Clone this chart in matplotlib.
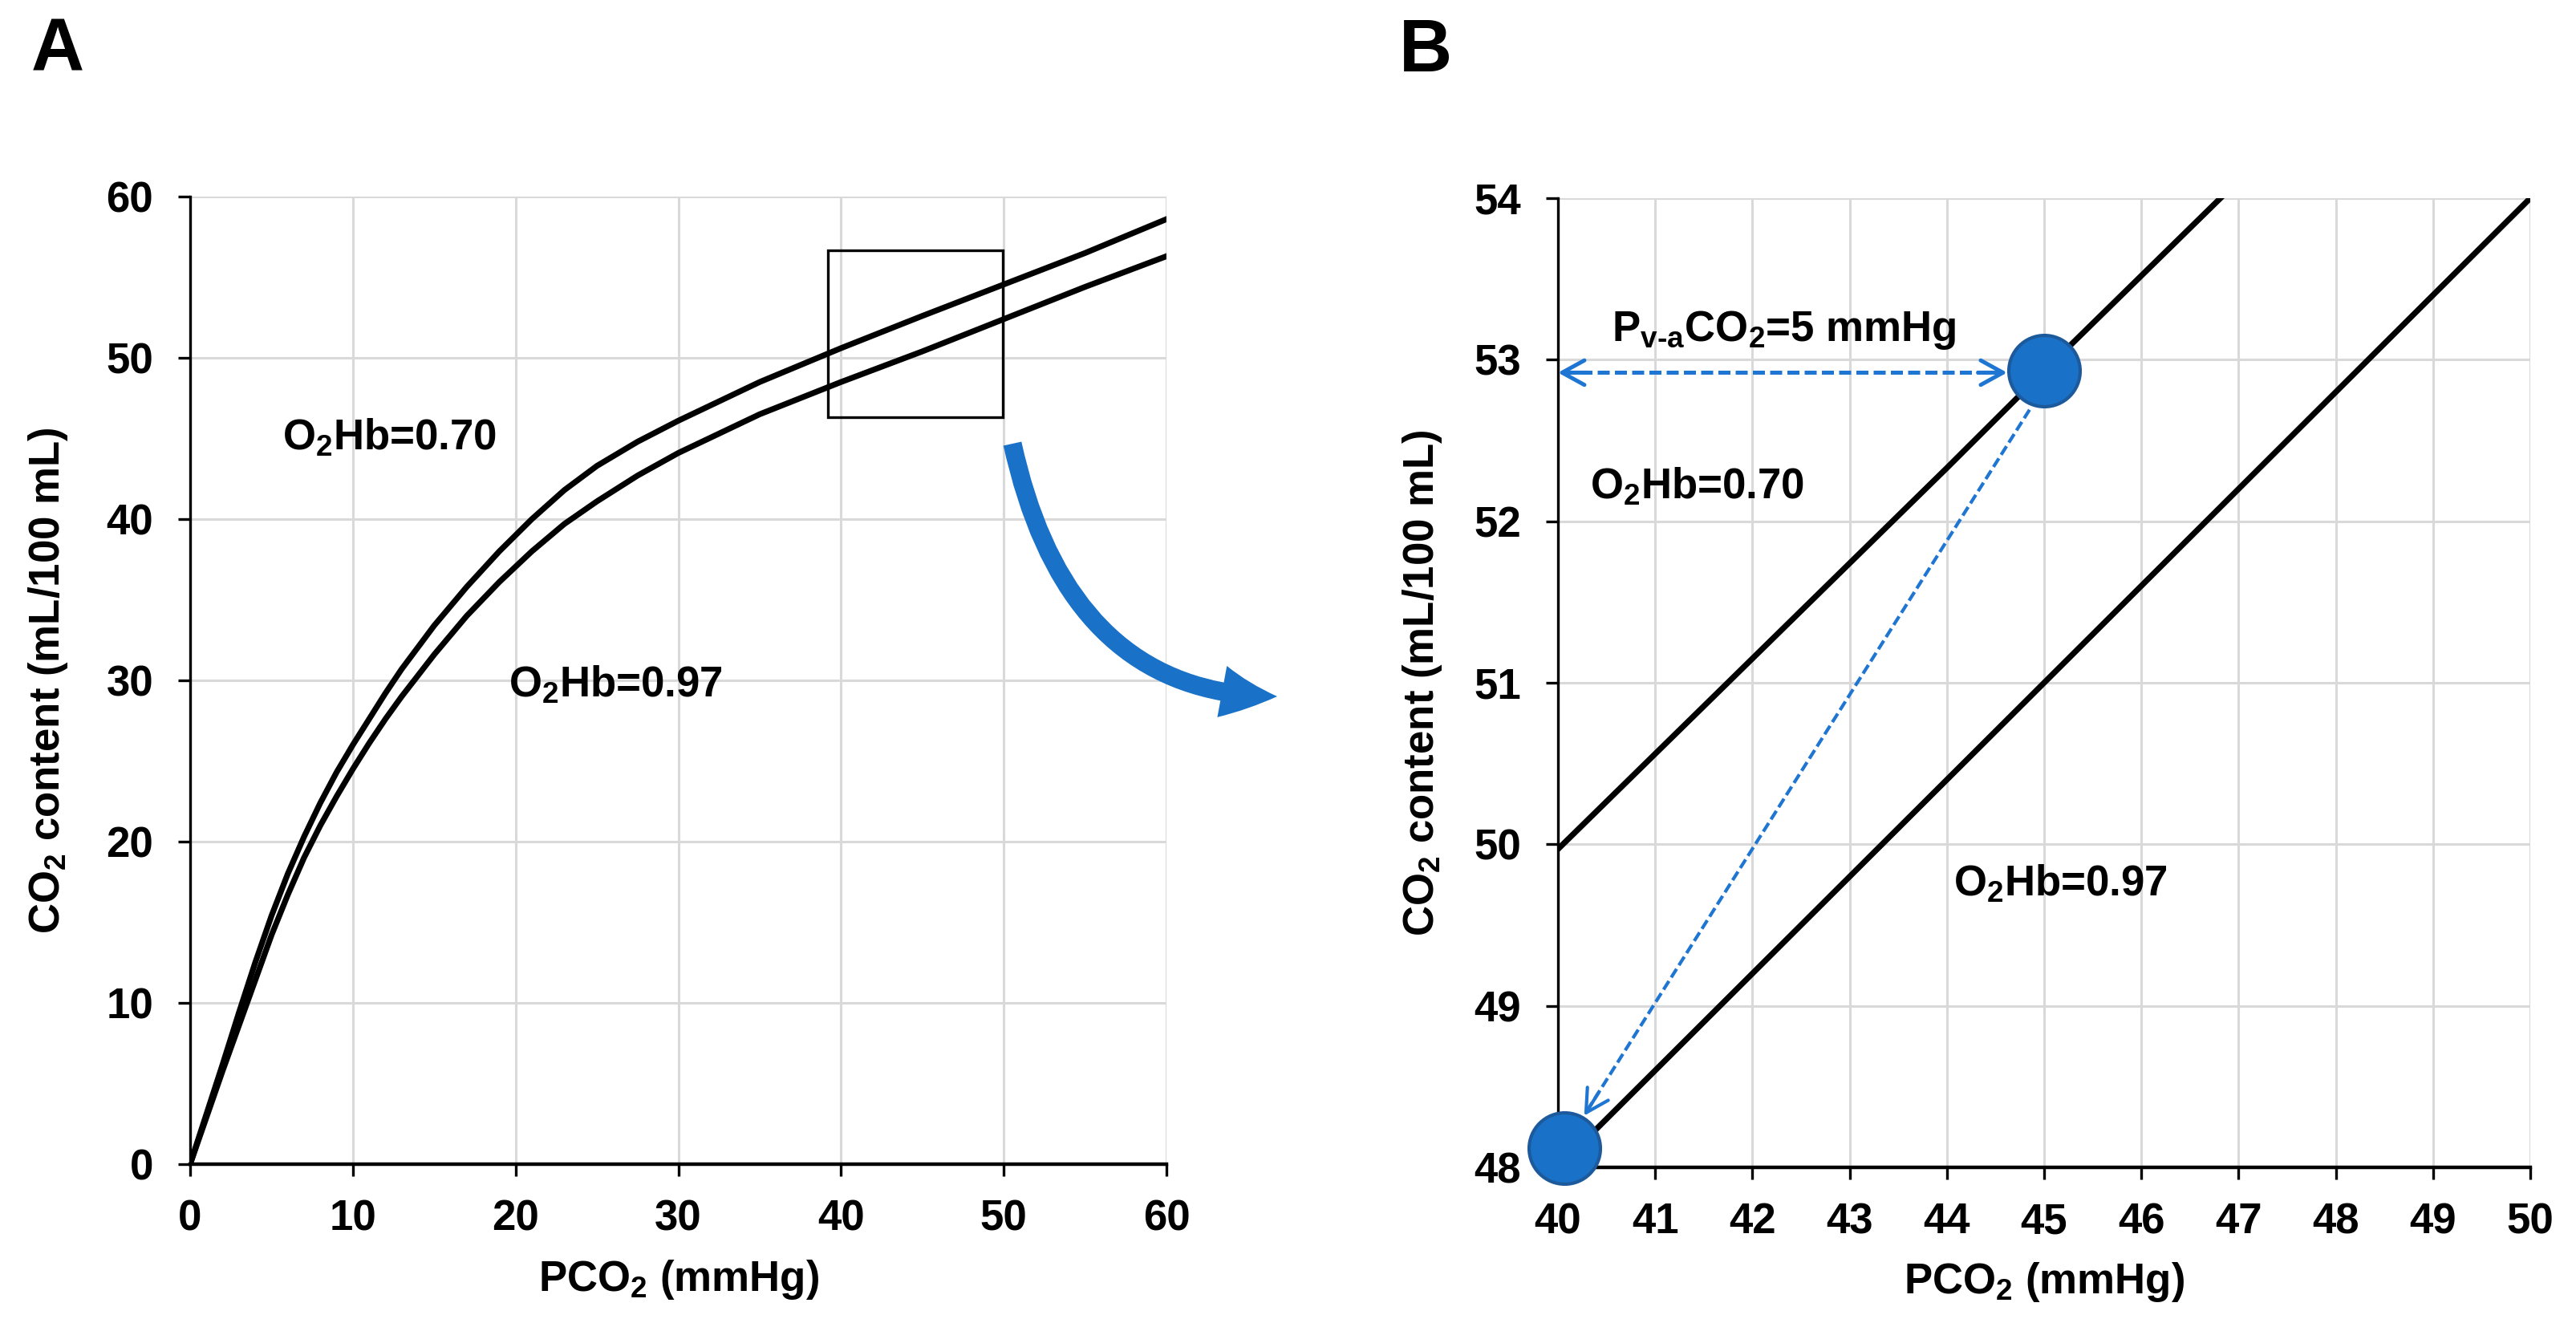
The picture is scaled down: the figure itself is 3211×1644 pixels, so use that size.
import matplotlib.pyplot as plt
from matplotlib.path import Path
from matplotlib.patches import FancyArrowPatch, Rectangle

plt.rcParams['font.family'] = 'Liberation Sans'
plt.rcParams['font.weight'] = 'bold'
plt.rcParams['axes.labelweight'] = 'bold'
plt.rcParams['mathtext.fontset'] = 'custom'
plt.rcParams['mathtext.rm'] = 'Liberation Sans:bold'
plt.rcParams['mathtext.it'] = 'Liberation Sans:bold'
plt.rcParams['mathtext.bf'] = 'Liberation Sans:bold'
plt.rcParams['mathtext.default'] = 'rm'

# panel A: CO2 dissociation curves
pco2_a = [0, 1, 2, 3, 4, 5, 6, 7, 8, 9, 10, 11, 12, 13, 15, 17, 19, 21, 23, 25, 27.5, 30,
          35, 40, 45, 50, 55, 60]
hb070_a = [0, 3.1, 6.2, 9.4, 12.5, 15.4, 18.0, 20.3, 22.4, 24.3, 26.0, 27.6, 29.2, 30.7, 33.4,
           35.8, 38.0, 40.0, 41.8, 43.3, 44.8, 46.1, 48.5, 50.6, 52.6, 54.55, 56.5, 58.6]
hb097_a = [0, 2.9, 5.8, 8.6, 11.4, 14.2, 16.7, 19.0, 21.0, 22.8, 24.5, 26.1, 27.6, 29.0, 31.6,
           34.0, 36.1, 38.0, 39.7, 41.1, 42.7, 44.1, 46.5, 48.5, 50.4, 52.4, 54.4, 56.3]

# panel B: zoomed part 40-50 mmHg
pco2_b = [40, 41, 42, 43, 44, 45, 46, 47, 48, 49, 50]
hb070_b = [49.97, 50.56, 51.15, 51.74, 52.33, 52.93, 53.52, 54.11, 54.70, 55.29, 55.88]
hb097_b = [48.0, 48.6, 49.2, 49.8, 50.4, 51.0, 51.6, 52.2, 52.8, 53.4, 54.0]

venous = (45.0, 52.93)
arterial = (40.07, 48.12)

BLUE = '#1a71c8'
DASH_BLUE = '#1f76d2'

fig = plt.figure(figsize=(16.06, 8.22), dpi=200)
axA = fig.add_axes([237 / 3212, 1 - 1451 / 1644, 1217 / 3212, 1206 / 1644])
axB = fig.add_axes([1942 / 3212, 1 - 1455 / 1644, 1212 / 3212, 1208 / 1644])


def style(ax):
    for s in ['top', 'right']:
        ax.spines[s].set_visible(False)
    ax.spines['left'].set_linewidth(1.2)
    ax.spines['bottom'].set_linewidth(1.6)
    ax.grid(True, color='#d9d9d9', lw=1.1)
    ax.set_axisbelow(True)
    ax.tick_params(direction='out', length=5.5, width=1.2, labelsize=19)
    ax.tick_params(axis='x', pad=10)
    ax.tick_params(axis='y', pad=11)
    ax.set_xlabel(r'PCO$_2$ (mmHg)', fontsize=19)
    ax.set_ylabel(r'CO$_2$ content (mL/100 mL)', fontsize=19)


# ---- A ----
style(axA)
axA.plot(pco2_a, hb070_a, color='black', lw=2.6, solid_joinstyle='round')
axA.plot(pco2_a, hb097_a, color='black', lw=2.6, solid_joinstyle='round')
axA.set_xlim(0, 60)
axA.set_ylim(0, 60)
axA.set_xticks(range(0, 61, 10))
axA.set_yticks(range(0, 61, 10))
axA.add_patch(Rectangle((39.2, 46.3), 10.75, 10.35, fill=False, ec='black', lw=1.2))
axA.text(5.67, 44.3, r'O$_2$Hb=0.70', fontsize=19, va='baseline')
axA.text(19.58, 28.96, r'O$_2$Hb=0.97', fontsize=19, va='baseline')
axA.xaxis.set_label_coords(0.5, -0.097)
axA.yaxis.set_label_coords(-0.123, 0.5)

# ---- B ----
style(axB)
axB.plot(pco2_b, hb070_b, color='black', lw=2.6)
axB.plot(pco2_b, hb097_b, color='black', lw=2.6)
axB.set_xlim(40, 50)
axB.set_ylim(48, 54)
axB.set_xticks(range(40, 51))
axB.set_yticks(range(48, 55))

# horizontal dashed double arrow
hx0, hx1, hy = 40.0, 44.62, 52.92
axB.plot([hx0 + 0.05, hx1 - 0.05], [hy, hy], color=DASH_BLUE, lw=1.8, ls=(0, (3, 1.3)), zorder=4)
for tip, back in [((hx0, hy), (hx0 + 0.3, hy)), ((hx1, hy), (hx1 - 0.3, hy))]:
    axB.annotate('', xy=tip, xytext=back,
                 arrowprops=dict(arrowstyle='->,head_length=1.0,head_width=0.55', color=DASH_BLUE,
                                 lw=1.8, shrinkA=0, shrinkB=0, mutation_scale=10), zorder=4)

# diagonal dashed arrow
d0 = (44.85, 52.69)
d1 = (40.27, 48.32)
axB.plot([d0[0], d1[0] + 0.05], [d0[1], d1[1] + 0.05], color=DASH_BLUE, lw=1.5, ls=(0, (3, 1.3)), zorder=4)
axB.annotate('', xy=d1, xytext=(d1[0] + 0.15, d1[1] + 0.145),
             arrowprops=dict(arrowstyle='->,head_length=1.0,head_width=0.55', color=DASH_BLUE,
                             lw=1.5, shrinkA=0, shrinkB=0, mutation_scale=10), zorder=4)

for px, py in [venous, arterial]:
    axB.plot(px, py, 'o', ms=32, mfc=BLUE, mec='#1d5a9c', mew=1.5, zorder=6, clip_on=False)

axB.text(40.55, 53.117, r'P$_{v\text{-}a}$CO$_2$=5 mmHg', fontsize=19, va='baseline')
axB.text(40.33, 52.14, r'O$_2$Hb=0.70', fontsize=19, va='baseline')
axB.text(44.07, 49.68, r'O$_2$Hb=0.97', fontsize=19, va='baseline')
axB.xaxis.set_label_coords(0.5, -0.096)
axB.yaxis.set_label_coords(-0.117, 0.5)

# curved blue arrow from the box in A towards B
W, H = 3212, 1644
pts = [(1262 / W, 1 - 553 / H), (1331 / W, 1 - 868 / H), (1592 / W, 1 - 868 / H)]
curve = Path(pts, [Path.MOVETO, Path.CURVE3, Path.CURVE3])
arrow = FancyArrowPatch(path=curve, transform=fig.transFigure,
                        arrowstyle='simple,head_length=24.8,head_width=23.4,tail_width=8.3',
                        mutation_scale=1, color=BLUE, lw=0)
fig.patches.append(arrow)

fig.text(39 / W, 1 - 20 / H, 'A', fontsize=33, va='top', ha='left')
fig.text(1744 / W, 1 - 22 / H, 'B', fontsize=33, va='top', ha='left')

fig.savefig('out.png', dpi=200)
